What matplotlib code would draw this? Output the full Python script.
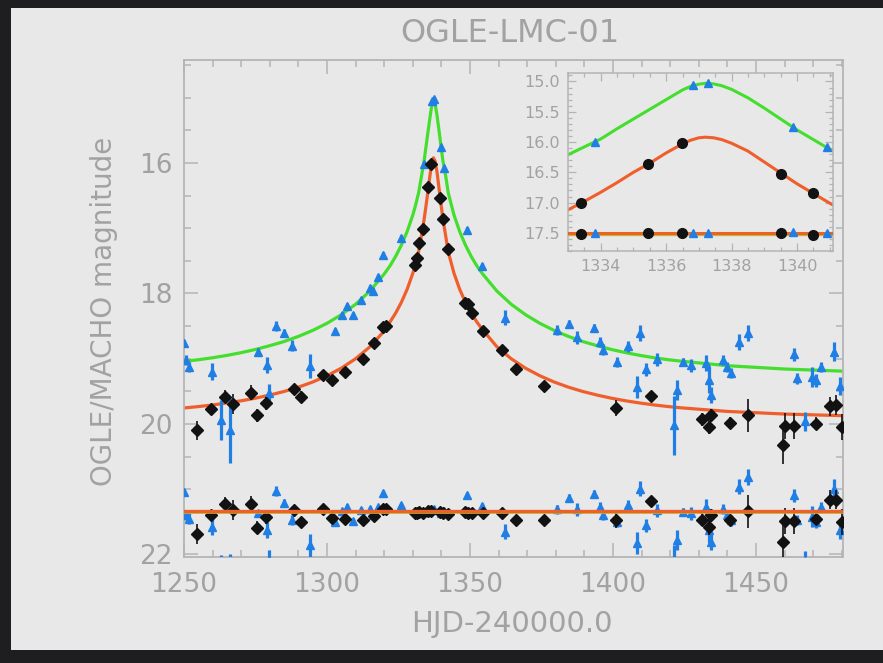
import matplotlib
matplotlib.use('Agg')
import matplotlib.pyplot as plt
from matplotlib.patches import Rectangle
from matplotlib.ticker import MultipleLocator
from matplotlib.transforms import offset_copy

# ---------------- data ----------------
# model curves (main panel)
curve_t = [1250, 1255, 1260, 1265, 1270, 1275, 1280, 1285, 1290, 1295,
           1300, 1305, 1310, 1315, 1320, 1322, 1324, 1326, 1328, 1330,
           1331, 1332, 1333, 1334, 1335, 1336, 1336.6, 1337.2, 1337.8, 1338.5,
           1339.5, 1340.5, 1341.5, 1342.4, 1344.4, 1346.4, 1348.4, 1350.4, 1352.4, 1354.4,
           1359.4, 1364.4, 1369.4, 1374.4, 1379.4, 1384.4, 1389.4, 1394.4, 1399.4, 1404.4,
           1409.4, 1414.4, 1419.4, 1424.4, 1440, 1460, 1480]
green_model = [19.04, 19.016, 18.985, 18.949, 18.907, 18.858, 18.80, 18.736, 18.658, 18.566,
               18.457, 18.325, 18.165, 17.963, 17.70, 17.578, 17.43, 17.258, 17.052, 16.797,
               16.64, 16.46, 16.21, 15.95, 15.62, 15.30, 15.12, 15.03, 15.09, 15.28,
               15.62, 15.96, 16.20, 16.46, 16.797, 17.052, 17.258, 17.43, 17.578, 17.70,
               17.963, 18.165, 18.325, 18.457, 18.566, 18.658, 18.736, 18.80, 18.858, 18.907,
               18.949, 18.985, 19.016, 19.04, 19.107, 19.158, 19.19]
orange_model = [19.755, 19.734, 19.709, 19.679, 19.645, 19.605, 19.557, 19.502, 19.436, 19.357,
                19.261, 19.145, 19.00, 18.817, 18.575, 18.438, 18.30, 18.135, 17.937, 17.69,
                17.54, 17.365, 17.12, 16.85, 16.53, 16.19, 16.00, 15.92, 15.97, 16.15,
                16.51, 16.85, 17.12, 17.365, 17.69, 17.937, 18.135, 18.30, 18.438, 18.555,
                18.817, 19.00, 19.145, 19.261, 19.357, 19.436, 19.502, 19.557, 19.605, 19.645,
                19.679, 19.709, 19.734, 19.755, 19.808, 19.848, 19.873]
res_level = 21.33

# MACHO (blue)
macho_t = [1250.0, 1250.8, 1251.6, 1259.9, 1262.9,
           1266.1, 1275.8, 1279.1, 1279.8, 1282.1,
           1285.1, 1287.9, 1294.1, 1302.8, 1305.1,
           1306.9, 1309.2, 1311.9, 1315.0, 1316.2,
           1318.0, 1319.7, 1325.9, 1333.8, 1336.8,
           1337.3, 1339.9, 1340.9, 1348.9, 1354.1,
           1362.4, 1380.5, 1384.6, 1387.5, 1393.5,
           1395.5, 1396.4, 1401.5, 1405.3, 1408.3,
           1409.4, 1411.4, 1415.3, 1421.3, 1422.3,
           1424.4, 1427.3, 1432.6, 1433.7, 1434.2,
           1438.3, 1439.7, 1441.2, 1444.2, 1447.3,
           1463.3, 1464.2, 1467.1, 1469.7, 1471.0,
           1472.7, 1477.2, 1479.4]
macho_mag = [18.76, 19.02, 19.13, 19.20, 19.94,
             20.10, 18.89, 19.10, 19.53, 18.50,
             18.61, 18.80, 19.11, 18.58, 18.33,
             18.19, 18.33, 18.10, 17.91, 17.96,
             17.74, 17.41, 17.15, 16.02, 15.05,
             15.02, 15.76, 16.08, 17.02, 17.58,
             18.37, 18.56, 18.46, 18.67, 18.53,
             18.74, 18.86, 19.05, 18.81, 19.43,
             18.61, 19.16, 19.01, 20.02, 19.48,
             19.05, 19.10, 19.07, 19.33, 19.56,
             19.02, 19.13, 19.22, 18.74, 18.61,
             18.93, 19.30, 19.96, 19.28, 19.33,
             19.13, 18.89, 19.42]
macho_err = [0.05, 0.08, 0.08, 0.13, 0.30,
             0.50, 0.05, 0.12, 0.15, 0.08,
             0.06, 0.08, 0.18, 0.05, 0.05,
             0.05, 0.05, 0.05, 0.04, 0.04,
             0.04, 0.04, 0.04, 0.03, 0.03,
             0.03, 0.03, 0.03, 0.04, 0.05,
             0.12, 0.07, 0.06, 0.10, 0.06,
             0.08, 0.08, 0.08, 0.08, 0.17,
             0.12, 0.10, 0.10, 0.45, 0.15,
             0.06, 0.10, 0.12, 0.20, 0.12,
             0.08, 0.08, 0.08, 0.12, 0.12,
             0.10, 0.08, 0.15, 0.16, 0.10,
             0.08, 0.15, 0.14]
macho_res = [21.04, 21.40, 21.45, 21.58, 22.31,
             22.49, 21.37, 21.63, 22.08, 21.03,
             21.21, 21.47, 21.86, 21.50, 21.34,
             21.27, 21.49, 21.32, 21.30, 21.40,
             21.28, 21.06, 21.25, 21.35, 21.32,
             21.31, 21.36, 21.33, 21.09, 21.26,
             21.65, 21.31, 21.14, 21.31, 21.07,
             21.27, 21.40, 21.50, 21.25, 21.83,
             20.99, 21.55, 21.32, 22.30, 21.78,
             21.35, 21.37, 21.27, 21.63, 21.81,
             21.30, 21.40, 21.48, 20.96, 20.81,
             21.09, 21.47, 22.10, 21.42, 21.50,
             21.27, 20.99, 21.63]

# OGLE (black)
ogle_t = [1254.4, 1259.4, 1264.3, 1267.2, 1273.4,
          1275.6, 1278.6, 1288.5, 1290.8, 1298.5,
          1301.7, 1306.3, 1312.5, 1316.5, 1319.6,
          1320.5, 1330.8, 1331.6, 1332.3, 1333.4,
          1335.4, 1336.5, 1339.5, 1340.5, 1342.4,
          1348.4, 1349.4, 1350.7, 1354.7, 1361.1,
          1366.1, 1376.0, 1401.1, 1413.2, 1431.0,
          1433.4, 1434.2, 1440.9, 1447.3, 1459.3,
          1460.1, 1463.1, 1471.0, 1475.9, 1477.9,
          1480.0]
ogle_mag = [20.10, 19.77, 19.58, 19.69, 19.52,
            19.87, 19.68, 19.46, 19.58, 19.25,
            19.32, 19.20, 19.01, 18.76, 18.51,
            18.50, 17.57, 17.45, 17.22, 17.01,
            16.37, 16.02, 16.53, 16.86, 17.32,
            18.14, 18.16, 18.30, 18.58, 18.87,
            19.15, 19.42, 19.76, 19.57, 19.93,
            20.04, 19.87, 19.98, 19.87, 20.32,
            20.03, 20.03, 20.00, 19.73, 19.71,
            20.04]
ogle_err = [0.15, 0.08, 0.10, 0.15, 0.12,
            0.10, 0.10, 0.08, 0.08, 0.06,
            0.06, 0.06, 0.05, 0.05, 0.05,
            0.05, 0.04, 0.04, 0.04, 0.04,
            0.03, 0.03, 0.03, 0.03, 0.04,
            0.05, 0.05, 0.05, 0.05, 0.06,
            0.07, 0.08, 0.12, 0.08, 0.10,
            0.12, 0.10, 0.08, 0.25, 0.30,
            0.20, 0.20, 0.10, 0.15, 0.15,
            0.20]
ogle_res = [21.69, 21.40, 21.22, 21.32, 21.23,
            21.59, 21.43, 21.32, 21.50, 21.30,
            21.44, 21.46, 21.47, 21.41, 21.31,
            21.30, 21.37, 21.37, 21.35, 21.36,
            21.33, 21.33, 21.35, 21.36, 21.38,
            21.35, 21.37, 21.36, 21.36, 21.36,
            21.47, 21.47, 21.48, 21.18, 21.47,
            21.58, 21.40, 21.48, 21.34, 21.81,
            21.49, 21.49, 21.45, 21.16, 21.16,
            21.50]

# inset (zoom on the peak)
inset_t = [1333.0, 1333.5, 1334.0, 1334.5, 1335.0, 1335.5, 1336.0, 1336.5, 1336.75, 1337.0,
           1337.2, 1337.45, 1337.7, 1338.0, 1338.5, 1339.0, 1339.5, 1340.0, 1340.5, 1341.0, 1341.2]
inset_green = [16.21, 16.08, 15.95, 15.78, 15.62, 15.46, 15.30, 15.14, 15.08, 15.045,
               15.03, 15.04, 15.07, 15.13, 15.27, 15.44, 15.62, 15.80, 15.96, 16.12, 16.18]
inset_orange = [17.12, 16.98, 16.83, 16.67, 16.50, 16.35, 16.18, 16.03, 15.97, 15.93,
                15.92, 15.93, 15.96, 16.02, 16.15, 16.33, 16.51, 16.69, 16.85, 17.01, 17.07]
inset_res_level = 17.50
inset_ogle_t = [1333.41, 1335.45, 1336.47, 1339.50, 1340.49]
inset_ogle_mag = [17.00, 16.37, 16.02, 16.53, 16.85]
inset_ogle_res = [17.52, 17.50, 17.50, 17.50, 17.53]
inset_macho_t = [1333.84, 1336.82, 1337.28, 1339.88, 1340.93]
inset_macho_mag = [16.00, 15.05, 15.02, 15.76, 16.08]
inset_macho_res = [17.50, 17.50, 17.50, 17.49, 17.50]

# ---------------- style ----------------
W, H = 883, 663
GREEN = '#44de2e'
ORANGE = '#ef5f2c'
OLIVE = '#b9bf2a'
BLUE = '#1f7fe4'
BLACK = '#121212'
TEXT = '#a2a2a2'
FRAME = '#b4b4b4'
PANEL = '#e8e8e8'

fig = plt.figure(figsize=(W / 100, H / 100), dpi=100)
fig.patch.set_facecolor('#1e1e20')
fig.add_artist(Rectangle((11 / W, 13 / H), 1 - 11 / W, (655 - 13) / H,
                         transform=fig.transFigure, facecolor=PANEL,
                         edgecolor='none', zorder=0))


def level_line(a, level, lw_under, lw_over):
    under = offset_copy(a.get_yaxis_transform(), fig=fig, x=0, y=-1.1, units='points')
    a.plot([0, 1], [level, level], color=OLIVE, lw=lw_under, transform=under, zorder=5)
    a.plot([0, 1], [level, level], color=ORANGE, lw=lw_over,
           transform=a.get_yaxis_transform(), zorder=6)


# ---------------- main axes ----------------
ax = fig.add_axes([184 / W, 1 - 557 / H, 659 / W, 497 / H])
ax.set_facecolor('none')

ax.plot(curve_t, green_model, color=GREEN, lw=2.3, zorder=2)
ax.plot(curve_t, orange_model, color=ORANGE, lw=2.3, zorder=2)

ax.errorbar(macho_t, macho_mag, yerr=macho_err, fmt='^', ms=5.5, color=BLUE,
            ecolor=BLUE, elinewidth=2.3, capsize=0, zorder=3)
ax.errorbar(ogle_t, ogle_mag, yerr=ogle_err, xerr=1.1, fmt='D', ms=6, color=BLACK,
            ecolor=BLACK, elinewidth=1.2, capsize=0, zorder=4)

ax.errorbar(macho_t, macho_res, yerr=macho_err, fmt='^', ms=5.5, color=BLUE,
            ecolor=BLUE, elinewidth=2.3, capsize=0, zorder=3)
ax.errorbar(ogle_t, ogle_res, yerr=ogle_err, xerr=1.1, fmt='D', ms=6, color=BLACK,
            ecolor=BLACK, elinewidth=1.2, capsize=0, zorder=4)

level_line(ax, res_level, 2.6, 2.4)

ax.set_xlim(1250, 1480.4)
ax.set_ylim(22.04, 14.42)

for s in ax.spines.values():
    s.set_color(FRAME)
    s.set_linewidth(1.3)
ax.xaxis.set_major_locator(MultipleLocator(50))
ax.xaxis.set_minor_locator(MultipleLocator(10))
ax.yaxis.set_major_locator(MultipleLocator(2))
ax.yaxis.set_minor_locator(MultipleLocator(0.5))
ax.tick_params(which='both', direction='in', top=True, right=True, color=FRAME, width=1.1)
ax.tick_params(which='major', length=10)
ax.tick_params(which='minor', length=5)
ax.tick_params(axis='x', which='major', labelsize=19, labelcolor=TEXT, pad=11)
ax.tick_params(axis='y', which='major', labelsize=19, labelcolor=TEXT, pad=8)

fig.text(510 / W, 1 - 33 / H, 'OGLE-LMC-01', ha='center', va='center', fontsize=23, color=TEXT)
fig.text(512 / W, 1 - 624 / H, 'HJD-240000.0', ha='center', va='center', fontsize=21, color=TEXT)
fig.text(104 / W, 1 - 311 / H, 'OGLE/MACHO magnitude', rotation=90, ha='center',
         va='center', fontsize=20, color=TEXT)

# ---------------- inset ----------------
axi = fig.add_axes([568 / W, 1 - 251 / H, 265 / W, 178 / H])
axi.set_facecolor(PANEL)
axi.set_zorder(10)

axi.plot(inset_t, inset_green, color=GREEN, lw=2.2, zorder=2)
axi.plot(inset_t, inset_orange, color=ORANGE, lw=2.2, zorder=2)
level_line(axi, inset_res_level, 2.4, 2.2)

axi.errorbar(inset_macho_t, inset_macho_mag, yerr=0.03, fmt='^', ms=6, color=BLUE,
             ecolor=BLUE, elinewidth=1.5, capsize=0, zorder=7)
axi.errorbar(inset_macho_t, inset_macho_res, yerr=0.03, fmt='^', ms=6, color=BLUE,
             ecolor=BLUE, elinewidth=1.5, capsize=0, zorder=7)
axi.errorbar(inset_ogle_t, inset_ogle_mag, yerr=0.05, xerr=0.1, fmt='o', ms=7, color=BLACK,
             ecolor=BLACK, elinewidth=1.0, capsize=0, zorder=8)
axi.errorbar(inset_ogle_t, inset_ogle_res, yerr=0.05, xerr=0.1, fmt='o', ms=7, color=BLACK,
             ecolor=BLACK, elinewidth=1.0, capsize=0, zorder=8)

axi.set_xlim(1333.0, 1341.1)
axi.set_ylim(17.8, 14.86)

for s in axi.spines.values():
    s.set_color(FRAME)
    s.set_linewidth(1.1)
axi.xaxis.set_major_locator(MultipleLocator(2))
axi.xaxis.set_minor_locator(MultipleLocator(0.5))
axi.yaxis.set_minor_locator(MultipleLocator(0.1))
axi.set_yticks([15.0, 15.5, 16.0, 16.5, 17.0, 17.5])
axi.set_yticklabels(['15.0', '15.5', '16.0', '16.5', '17.0', '17.5'])
axi.tick_params(which='both', direction='in', top=True, right=True, color=FRAME, width=0.9)
axi.tick_params(which='major', length=6)
axi.tick_params(which='minor', length=3)
axi.tick_params(axis='x', which='major', labelsize=11.5, labelcolor=TEXT, pad=6)
axi.tick_params(axis='y', which='major', labelsize=11.5, labelcolor=TEXT, pad=6)

fig.savefig('out.png', dpi=100, facecolor=fig.get_facecolor())
